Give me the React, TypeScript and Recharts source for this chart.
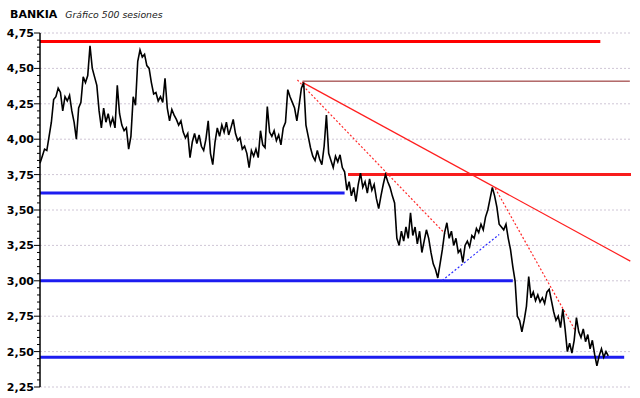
import { CartesianGrid, ComposedChart, Line, ReferenceLine, XAxis, YAxis } from "recharts";

// closing prices, one every 2 sessions
const pricesA = [
  3.83, 3.88, 3.93, 3.92, 4.02, 4.12, 4.28, 4.3, 4.36, 4.33,
  4.2, 4.3, 4.27, 4.31, 4.2, 4.12, 4.0, 4.22, 4.26, 4.44,
  4.4, 4.45, 4.66, 4.5, 4.44, 4.38, 4.2, 4.08, 4.22, 4.12,
  4.18, 4.1, 4.15, 4.08, 4.38, 4.18, 4.1, 4.06, 4.08, 3.93,
  4.02, 4.3, 4.24, 4.55, 4.63, 4.58, 4.6, 4.52, 4.5, 4.4,
  4.32, 4.33, 4.27, 4.3, 4.26, 4.43, 4.22, 4.13, 4.21, 4.17,
  4.14, 4.1, 4.13,
];
const pricesB = [
  4.05, 4.01, 4.04, 3.87, 3.98, 4.04, 3.97, 4.03, 3.95, 3.92,
  4.0, 4.13, 3.9, 3.82, 3.98, 4.08, 4.02, 4.1, 4.05, 4.12,
  4.03, 4.08, 4.14, 4.04, 3.99, 4.01, 3.93, 3.95, 3.9, 3.8,
  3.92, 3.88, 3.93, 3.87, 4.06, 3.96, 3.94, 4.23, 4.05, 4.02,
  4.06, 3.99, 4.03, 3.96, 4.08, 4.12, 4.35, 4.3, 4.26, 4.22,
  4.13, 4.24, 4.36, 4.4, 4.1, 4.02, 3.94, 3.88, 3.85, 3.92,
  3.86, 3.82,
];
const pricesC = [
  3.95, 4.17, 3.9, 3.85, 3.8, 3.88, 3.84, 3.89, 3.8, 3.77,
  3.64, 3.7, 3.6, 3.66, 3.56, 3.68, 3.76, 3.66, 3.7, 3.62,
  3.72, 3.64, 3.68, 3.58, 3.51, 3.6, 3.68, 3.75, 3.7, 3.66,
  3.6, 3.55, 3.3, 3.25, 3.35, 3.28, 3.38, 3.3, 3.48, 3.32,
  3.38, 3.26, 3.35, 3.2, 3.28, 3.36, 3.3, 3.2, 3.12, 3.08,
  3.02, 3.12, 3.22, 3.34, 3.41, 3.3, 3.35, 3.25, 3.3, 3.2,
  3.22, 3.13, 3.25,
];
const pricesD = [
  3.28, 3.24, 3.32, 3.3, 3.37, 3.34, 3.4, 3.36, 3.45, 3.5,
  3.58, 3.66, 3.6, 3.52, 3.4, 3.38, 3.36, 3.4, 3.3, 3.22,
  3.1, 3.0, 2.75, 2.72, 2.64, 2.72, 2.82, 3.03, 2.88, 2.92,
  2.86, 2.9, 2.85, 2.88, 2.84, 2.92, 2.94, 2.86, 2.78, 2.72,
  2.75, 2.67, 2.8, 2.66, 2.5, 2.56, 2.49, 2.58, 2.74, 2.64,
  2.6, 2.66, 2.57, 2.62, 2.52, 2.58, 2.48, 2.4, 2.47, 2.52,
  2.46, 2.5, 2.47,
];

const yMajor = [2.25, 2.5, 2.75, 3.0, 3.25, 3.5, 3.75, 4.0, 4.25, 4.5, 4.75];
const yLabels = ["2,25", "2,50", "2,75", "3,00", "3,25", "3,50", "3,75", "4,00", "4,25", "4,50", "4,75"];
const xGrid = [125, 250, 375, 500];

// horizontal levels: price, first session, last session
const resistances = [
  { price: 4.69, from: 0, to: 493 },
  { price: 3.75, from: 271, to: 520 },
];
const supports = [
  { price: 3.62, from: 0, to: 268 },
  { price: 3.0, from: 0, to: 416 },
  { price: 2.46, from: 0, to: 514 },
];
const topLevel = { price: 4.41, from: 231, to: 519 };
const trendSolid = [{ s: 230.6, p: 4.403 }, { s: 519.4, p: 3.139 }];
const trendDotted = [
  [{ s: 226.5, p: 4.418 }, { s: 356.5, p: 3.332 }],
  [{ s: 400.5, p: 3.653 }, { s: 471, p: 2.648 }],
];
const blueDotted = [{ s: 353.9, p: 3.002 }, { s: 404, p: 3.327 }];

const data = [...pricesA, ...pricesB, ...pricesC, ...pricesD].map((p, i) => ({ s: i * 2, p }));

const yTicks: number[] = [];
yMajor.forEach((v, i) => {
  yTicks.push(v);
  if (i < yMajor.length - 1) for (let k = 1; k < 5; k++) yTicks.push(+(v + k * 0.05).toFixed(2));
});

const FONT = "'DejaVu Sans', Verdana, sans-serif";

function YTick(props: any) {
  const { x, y, payload } = props;
  const idx = yMajor.findIndex((v) => Math.abs(v - payload.value) < 1e-6);
  const major = idx >= 0;
  return (
    <g>
      <line x1={x - (major ? 6 : 3)} x2={x} y1={y} y2={y} stroke="#000" strokeWidth={1} />
      {major && (
        <text x={x - 6} y={y} dy="0.36em" textAnchor="end" fontFamily={FONT} fontWeight="bold" fontSize={11} fill="#000">
          {yLabels[idx]}
        </text>
      )}
    </g>
  );
}

const seg = (a: { s: number; p: number }, b: { s: number; p: number }) => [
  { x: a.s, y: a.p },
  { x: b.s, y: b.p },
];

export default function App() {
  return (
    <div style={{ position: "absolute", left: 0, top: 0, width: 640, height: 398, background: "#fff" }}>
      <div style={{ position: "absolute", left: 10, top: 3, fontFamily: FONT, whiteSpace: "nowrap", color: "#000" }}>
        <span style={{ fontWeight: "bold", fontSize: 11 }}>BANKIA</span>
        <span style={{ fontStyle: "italic", fontSize: 9.3, marginLeft: 8, color: "#222" }}>Gráfico 500 sesiones</span>
      </div>
      <ComposedChart width={640} height={398} data={data} margin={{ top: 33, right: 9, bottom: 11, left: 0 }}>
        <CartesianGrid
          horizontalValues={yMajor}
          verticalValues={xGrid}
          stroke="#cfc6d6"
          strokeDasharray="2 2"
        />
        <XAxis
          dataKey="s"
          type="number"
          domain={[0, 520]}
          ticks={xGrid}
          tick={false}
          tickLine={false}
          height={0}
          axisLine={{ stroke: "#000", strokeWidth: 1.5 }}
        />
        <YAxis
          type="number"
          domain={[2.25, 4.75]}
          ticks={yTicks}
          interval={0}
          width={40}
          tickSize={0}
          tickMargin={0}
          tickLine={false}
          tick={<YTick />}
          axisLine={{ stroke: "#000", strokeWidth: 1.5 }}
          allowDataOverflow
        />
        {supports.map((l) => (
          <ReferenceLine
            key={"s" + l.price}
            segment={[{ x: l.from, y: l.price }, { x: l.to, y: l.price }]}
            stroke="#1c1cf0"
            strokeWidth={3}
          />
        ))}
        {resistances.map((l, i) => (
          <ReferenceLine
            key={"r" + l.price}
            segment={[{ x: l.from, y: l.price }, { x: l.to, y: l.price }]}
            stroke={i === 0 ? "#ff0000" : "#f81c1c"}
            strokeWidth={3}
          />
        ))}
        <ReferenceLine
          segment={[{ x: topLevel.from, y: topLevel.price }, { x: topLevel.to, y: topLevel.price }]}
          stroke="#8a1a1a"
          strokeWidth={1}
        />
        <ReferenceLine segment={seg(trendSolid[0], trendSolid[1])} stroke="#ff1f1f" strokeWidth={1.2} />
        {trendDotted.map((t, i) => (
          <ReferenceLine key={"d" + i} segment={seg(t[0], t[1])} stroke="#ff2a2a" strokeWidth={1.2} strokeDasharray="2 2" />
        ))}
        <ReferenceLine segment={seg(blueDotted[0], blueDotted[1])} stroke="#2a2aff" strokeWidth={1.2} strokeDasharray="2 2" />
        <Line
          dataKey="p"
          type="linear"
          stroke="#000"
          strokeWidth={1.6}
          dot={false}
          isAnimationActive={false}
        />
      </ComposedChart>
    </div>
  );
}
